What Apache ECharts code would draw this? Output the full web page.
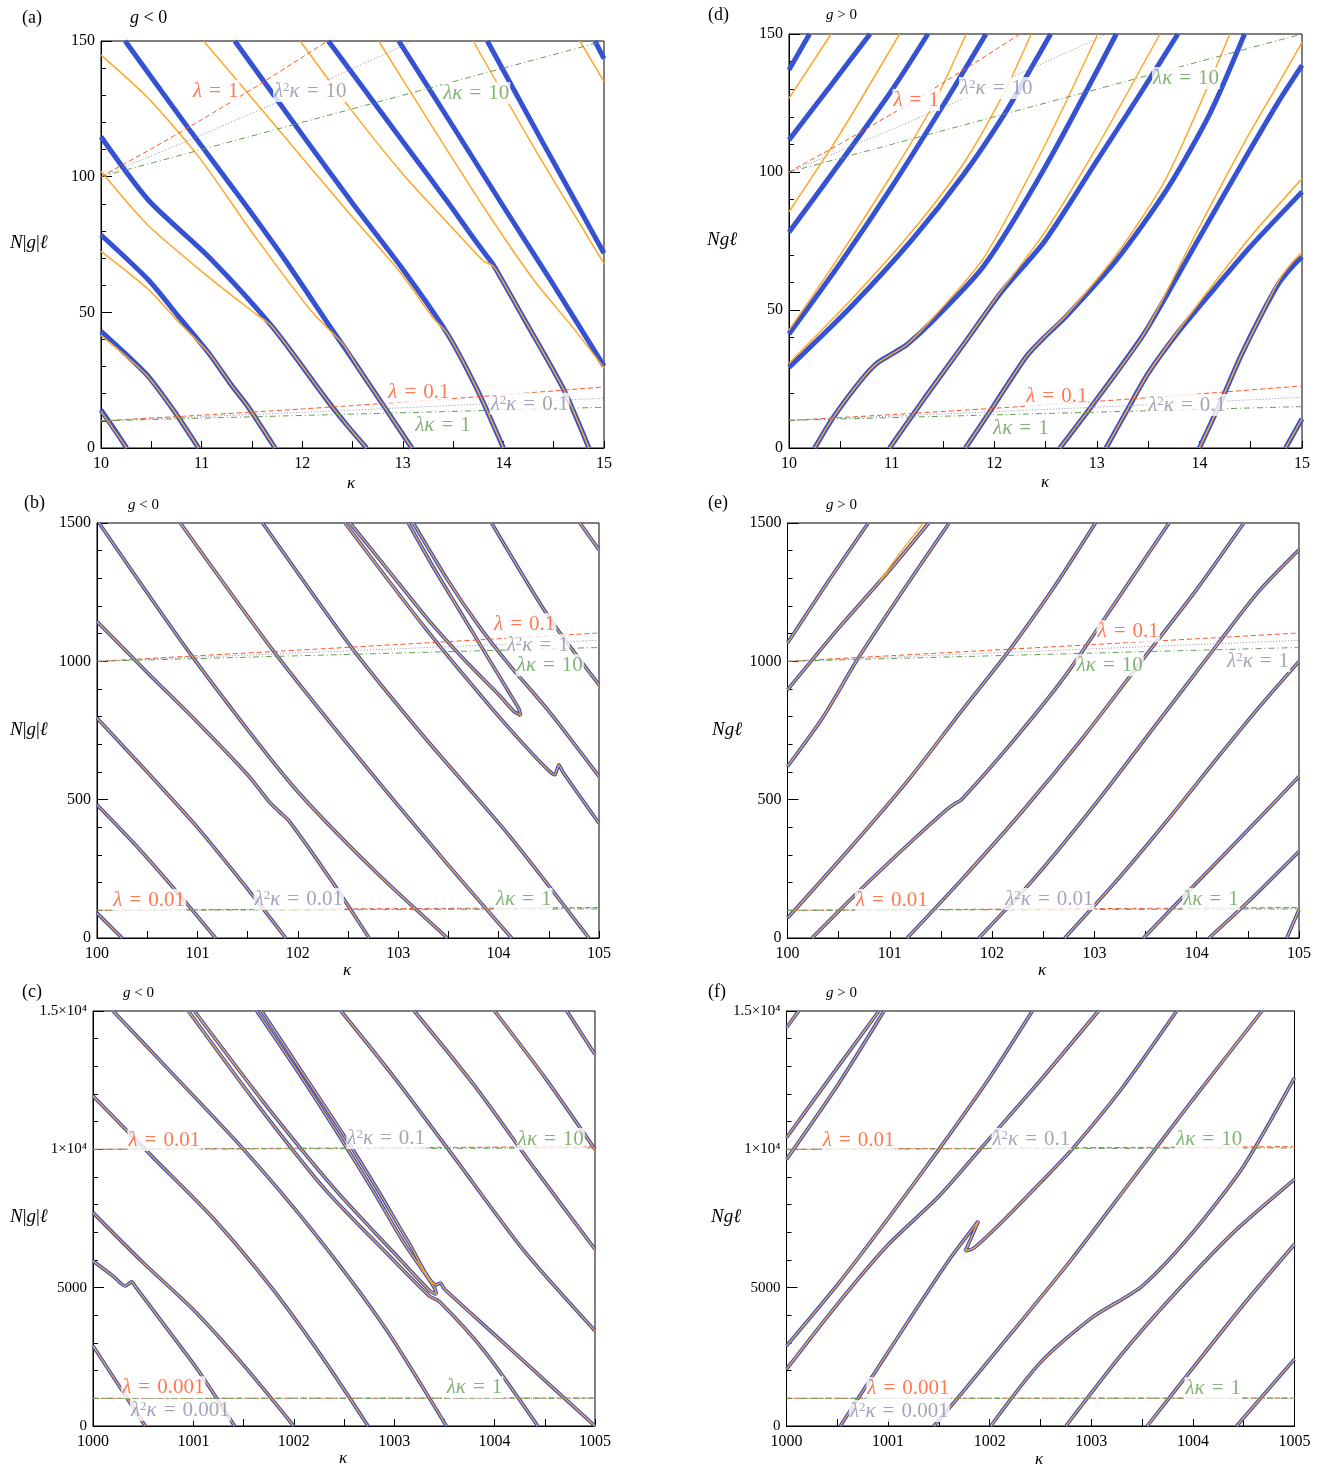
<!DOCTYPE html>
<html><head><meta charset="utf-8">
<script src="https://cdn.jsdelivr.net/npm/echarts/dist/echarts.min.js"></script>
<style>html,body{margin:0;padding:0;background:#fff}#c{width:1324px;height:1468px}</style>
</head><body><div id="c"></div>
<script>
// ---------------- DATA ----------------
// Panel (a): g<0, kappa 10..15
const aBlue = [
 [[10,14],[10.13,7],[10.255,0]],
 [[10,43],[10.25,34.5],[10.47,26.4],[10.74,12.9],[10.97,0]],
 [[10,78.5],[10.47,62],[10.77,48.5],[11.07,35],[11.3,23],[11.46,15.3],[11.73,0]],
 [[10,114.7],[10.47,91.4],[11.07,70.5],[11.7,44.8],[12.26,17],[12.45,8.2],[12.64,0]],
 [[10.24,150],[10.87,117.8],[11.4,91.4],[11.83,69.3],[12.29,44],[12.54,30.5],[13.09,0]],
 [[11.33,150],[12.0,115.5],[12.5,90.2],[12.98,66.9],[13.44,42.3],[13.74,21.5],[14.0,0]],
 [[12.26,150],[12.5,138],[13.0,113],[13.47,89.5],[13.7,77.5],[13.82,71.5],[13.9,67.5],[13.97,63],[14.23,46],[14.6,21.5],[14.85,0]],
 [[12.96,150],[13.5,118.5],[14.0,89],[14.5,60],[15,30.2]],
 [[13.84,150],[14.4,112],[15,71.8]],
 [[14.91,150],[15,143.5]]
];
const aOrange = [
 [[10,13.5],[10.13,6.7],[10.255,0]],
 [[10,41.5],[10.25,33.8],[10.47,26.2],[10.74,12.9],[10.97,0]],
 [[10,72.5],[10.47,58.5],[10.77,46.5],[11.07,35],[11.3,23],[11.46,15.3],[11.73,0]],
 [[10,102],[10.47,82],[11.07,63],[11.5,50.5],[11.7,44.8],[12.26,17],[12.45,8.2],[12.64,0]],
 [[10,144.8],[10.47,128.9],[10.97,107.4],[11.53,78],[12.09,50.5],[12.4,38.5],[12.54,30.5],[13.09,0]],
 [[11.02,150],[11.5,129],[12.0,107],[12.48,86],[12.98,64.5],[13.3,48],[13.44,42.3],[13.74,21.5],[14.0,0]],
 [[11.98,150],[12.48,125],[13.0,101],[13.47,82],[13.8,69],[13.9,67],[13.97,63],[14.23,46],[14.6,21.5],[14.85,0]],
 [[12.76,150],[13.3,118],[13.8,89],[14.3,62],[14.7,44],[15,29.5]],
 [[13.70,150],[14.3,111],[15,68]],
 [[14.76,150],[15,135]]
];
// Panel (d): g>0, kappa 10..15
const dBlue = [
 [[10,137],[10.2,150]],
 [[10,111.6],[10.4,131],[10.79,150]],
 [[10,78.2],[10.5,103.5],[11,129.5],[11.354,150]],
 [[10,41.3],[10.5,67],[11,94.5],[11.5,124],[11.92,150]],
 [[10,29.2],[10.6,51],[11.2,75.5],[11.7,99],[12.1,121],[12.35,137],[12.55,150]],
 [[10.25,0],[10.43,11],[10.69,24],[10.85,30.5],[11.0,34],[11.15,37.5],[11.4,46],[11.9,66],[12.5,102],[13.19,150]],
 [[10.98,0],[11.32,18],[11.71,38],[12.07,56.5],[12.494,75],[13.0,104],[13.4,127],[13.79,150]],
 [[11.72,0],[11.99,15],[12.31,33],[12.5,40.5],[12.7,47.6],[13.19,68],[13.68,93.5],[14.1,121],[14.44,150]],
 [[12.64,0],[12.98,16.7],[13.47,42],[13.956,73.4],[14.443,104.8],[14.77,125.4],[15,138.6]],
 [[13.09,0],[13.3,14],[13.5,27],[13.794,42],[14.118,56.5],[14.508,73.4],[15,92.8]],
 [[14.0,0],[14.2,16],[14.4,33],[14.6,48],[14.78,60],[14.9,65.5],[15,69.2]],
 [[14.84,0],[15,10.6]]
];
const dOrange = [
 [[10,126.7],[10.41,150]],
 [[10,85.6],[10.5,114],[11.078,150]],
 [[10,42.7],[10.5,70],[11,99],[11.4,124],[11.727,150]],
 [[10,30.7],[10.6,53.5],[11.2,78.5],[11.7,103],[12.1,129],[12.36,150]],
 [[10.25,0],[10.43,11],[10.69,24],[10.85,30.5],[11.0,34],[11.15,37.5],[11.4,47],[11.9,69],[12.494,109.7],[13.01,150]],
 [[10.98,0],[11.32,18],[11.71,38],[12.07,57],[12.494,78.2],[13.0,109],[13.615,150]],
 [[11.72,0],[11.99,15],[12.31,33],[12.5,40.7],[12.7,48],[13.19,70],[13.68,98],[14.297,150]],
 [[12.64,0],[12.98,16.7],[13.47,42],[13.956,77],[14.443,111],[14.77,132],[15,147]],
 [[13.09,0],[13.3,14],[13.5,27],[13.794,42.5],[14.118,58.5],[14.508,77],[15,97.6]],
 [[14.0,0],[14.2,16],[14.4,33],[14.6,48],[14.78,61],[14.9,67],[15,71]],
 [[14.84,0],[15,10.6]]
];
// Panel (b): g<0, kappa 100..105 (blue and orange coincide)
const bLines = [
 [[100,90],[100.25,0]],
 [[100,482],[100.4,330],[100.8,165],[101.18,0]],
 [[100,795],[100.5,600],[101,400],[101.45,200],[101.88,0]],
 [[100,1144],[100.5,960],[101.0,780],[101.5,590],[101.72,490],[101.82,455],[101.92,420],[102.34,205],[102.71,0]],
 [[100.02,1500],[100.95,1017],[101.94,554],[102.77,241],[103.49,0]],
 [[100.83,1500],[101.76,1036],[102.61,650],[103.44,289],[104.13,0]],
 [[101.65,1500],[102.54,1048],[103.27,722],[104.1,373],[104.9,0]],
 [[102.47,1500],[103.27,1120],[103.93,831],[104.3,680],[104.5,605],[104.56,590],[104.6,626],[104.64,600],[105,415]],
 [[102.52,1500],[102.9,1330],[103.3,1150],[103.7,990],[104.0,880],[104.15,820],[104.22,805],[104.2,830],[104.1,890],[103.9,1010],[103.6,1190],[103.35,1340],[103.1,1500]],
 [[103.15,1500],[103.5,1290],[103.8,1130],[104.1,990],[104.5,820],[105,584]],
 [[103.93,1500],[104.5,1160],[105,915]],
 [[104.81,1500],[105,1403]]
];
// Panel (e): g>0, kappa 100..105
const eLines = [
 [[100,1066],[100.4,1290],[100.79,1500]],
 [[100,897],[100.5,1120],[101,1330],[101.38,1500]],
 [[100,620],[100.35,800],[100.69,1011],[101.1,1240],[101.58,1500]],
 [[100,72],[100.6,320],[101.2,580],[101.7,820],[102.16,1036],[102.6,1265],[103.01,1500]],
 [[100.24,0],[100.7,170],[101.2,345],[101.55,462],[101.62,482],[101.7,500],[102.2,710],[102.7,940],[103.2,1210],[103.73,1500]],
 [[101.17,0],[101.7,210],[102.3,460],[102.9,730],[103.5,1020],[104.0,1260],[104.46,1500]],
 [[101.87,0],[102.4,210],[103,480],[103.6,770],[104.2,1060],[104.6,1250],[105,1403]],
 [[102.71,0],[103.2,200],[103.7,420],[104.2,650],[104.6,830],[105,1000]],
 [[103.48,0],[104,200],[104.5,390],[105,584]],
 [[104.12,0],[104.5,130],[105,313]],
 [[104.88,0],[105,102]]
];
// orange branch that separates slightly from its blue partner near the top of (e)
const eOrangeSplit = [
 [[100.9,1290],[101.1,1392],[101.33,1500]]
];
// Panel (c): g<0, kappa 1000..1005
const cLines = [
 [[1000,2896],[1000.52,0]],
 [[1000,5966],[1000.2,5420],[1000.32,5060],[1000.385,5210],[1000.43,5000],[1000.7,3700],[1001.05,2000],[1001.41,0]],
 [[1000,7712],[1000.5,5900],[1001,4200],[1001.5,2200],[1002,0]],
 [[1000,11926],[1000.6,9700],[1001.2,7500],[1001.8,4900],[1002.3,2400],[1002.74,0]],
 [[1000.2,15000],[1000.8,12700],[1001.5,10000],[1002.2,7000],[1002.9,3600],[1003.52,0]],
 [[1000.95,15000],[1001.6,11800],[1002.3,8600],[1002.95,6150],[1003.35,4700],[1003.45,4500],[1003.9,2700],[1004.43,0]],
 [[1001.01,15000],[1001.7,11700],[1002.4,8600],[1003.0,6250],[1003.35,4900],[1003.42,4760],[1003.4,5000],[1003.1,6600],[1002.8,8450],[1002.45,10500],[1002.05,12750],[1001.63,15000]],
 [[1001.68,15000],[1002.1,12700],[1002.5,10500],[1002.85,8450],[1003.15,6600],[1003.42,5100],[1003.46,5170],[1003.5,4950],[1004.0,3300],[1004.5,1650],[1005,0]],
 [[1002.47,15000],[1003,12600],[1003.6,9700],[1004.3,6300],[1005,3438]],
 [[1003.2,15000],[1003.8,12300],[1004.4,9300],[1005,6388]],
 [[1004.0,15000],[1004.5,12600],[1005,10000]],
 [[1004.72,15000],[1005,13431]]
];
// Panel (f): g>0, kappa 1000..1005
const fLines = [
 [[1000,14394],[1000.12,15000]],
 [[1000,10421],[1000.45,12700],[1000.91,15000]],
 [[1000,9638],[1000.5,12300],[1000.96,15000]],
 [[1000,2896],[1000.5,5100],[1001.0,7500],[1001.5,10000],[1002.0,12600],[1002.42,15000]],
 [[1000,2053],[1000.5,4400],[1001.0,6550],[1001.5,8300],[1001.92,10060],[1002.5,12500],[1003.07,15000]],
 [[1000.53,0],[1000.71,1030],[1001.2,3800],[1001.6,6000],[1001.89,7411],[1001.83,6900],[1001.76,6328],[1001.84,6420],[1002.1,7300],[1002.5,8800],[1002.81,10000],[1003.3,12200],[1003.84,15000]],
 [[1001.45,0],[1001.66,900],[1002.2,3300],[1002.8,6000],[1003.4,8900],[1004.0,11800],[1004.68,15000]],
 [[1002.01,0],[1002.5,2300],[1003.0,3900],[1003.5,5060],[1004.0,7000],[1004.5,9400],[1005,12588]],
 [[1002.75,0],[1003.3,2600],[1003.8,4700],[1004.4,7000],[1005,8916]],
 [[1003.55,0],[1004,2100],[1004.5,4400],[1005,6568]],
 [[1004.43,0],[1005,2415]]
];
// Reference curves (lambda = const, lambda^2 kappa = const, lambda kappa = const)
const rA_lam1   = [[10,100],[10.5,110.25],[11,121],[11.5,132.25],[12,144],[12.25,150]];
const rA_l2k10  = [[10,100],[11,115.4],[12,131.5],[13,148.2],[13.1,150]];
const rA_lk10   = [[10,100],[15,150]];
const rA_lam01  = [[10,10],[11,12.1],[12,14.4],[13,16.9],[14,19.6],[15,22.5]];
const rA_l2k01  = [[10,10],[11,11.54],[12,13.15],[13,14.82],[14,16.57],[15,18.37]];
const rA_lk1    = [[10,10],[15,15]];
const rB_lam01  = [[100,1000],[101,1020.1],[102,1040.4],[103,1060.9],[104,1081.6],[105,1102.5]];
const rB_l2k1   = [[100,1000],[101,1015],[102,1030.2],[103,1045.4],[104,1060.6],[105,1075.9]];
const rB_lk10   = [[100,1000],[105,1050]];
const rB_lam001 = [[100,100],[105,110.25]];
const rB_l2k001 = [[100,100],[105,107.6]];
const rB_lk1    = [[100,100],[105,105]];
const rC_lam001 = [[1000,10000],[1005,10100]];
const rC_l2k01  = [[1000,10000],[1005,10075]];
const rC_lk10   = [[1000,10000],[1005,10050]];
const rC_lam0001= [[1000,1000],[1005,1010]];
const rC_l2k0001= [[1000,1000],[1005,1007.5]];
const rC_lk1    = [[1000,1000],[1005,1005]];
// Tick labels
const yTicksC = {0:'0',5000:'5000',10000:'1×10⁴',15000:'1.5×10⁴'};

// ---------------- CHART ----------------
const BLUE='#3552d2', ORANGE='#ffa726', RED='#ff5626', GREY='#8f8fa8', GREEN='#64a055';
const SERIF='"Liberation Serif", "DejaVu Serif", serif';
const grids=[
 {left:101,top:41,width:503,height:407},
 {left:789,top:34,width:513,height:414},
 {left:97,top:523,width:502,height:415},
 {left:787.5,top:523,width:511.5,height:415},
 {left:93,top:1011,width:502,height:415},
 {left:786.5,top:1011,width:508,height:415}
].map(g=>Object.assign({show:true,borderColor:'#000',borderWidth:1,containLabel:false},g));
const ranges=[[10,15,0,150,50],[10,15,0,150,50],[100,105,0,1500,500],[100,105,0,1500,500],[1000,1005,0,15000,5000],[1000,1005,0,15000,5000]];
const xAxis=ranges.map((r,i)=>({type:'value',gridIndex:i,min:r[0],max:r[1],interval:0.5,
 axisLine:{lineStyle:{color:'#000',width:1}},splitLine:{show:false},
 axisTick:{inside:true,length:7,lineStyle:{color:'#000'}},
 axisLabel:{margin:8,color:'#000',fontFamily:SERIF,fontSize:16,formatter:v=>Math.abs(v-Math.round(v))<1e-6?String(Math.round(v)):''}}));
const yAxis=ranges.map((r,i)=>({type:'value',gridIndex:i,min:r[2],max:r[3],interval:r[4],
 axisLine:{lineStyle:{color:'#000',width:1}},splitLine:{show:false},
 axisTick:{inside:true,length:11,lineStyle:{color:'#000'}},
 minorTick:{show:true,splitNumber:5,length:5,lineStyle:{color:'#000'}},
 axisLabel:{margin:6,color:'#000',fontFamily:SERIF,fontSize:i>=4?15:16,formatter:v=>i>=4?(yTicksC[v]||''):String(v)}}));

const series=[];
function line(gi,data,color,width,z,type){
 series.push({type:'line',xAxisIndex:gi,yAxisIndex:gi,data:data,symbol:'none',showSymbol:false,smooth:0.25,
  lineStyle:{color:color,width:width,type:type||'solid'},z:z,silent:true,animation:false,clip:true});
}
function refs(gi,list){
 list.forEach(([d,k])=>{
  const c=k==='lam'?RED:(k==='l2k'?GREY:GREEN);
  const t=k==='lam'?[5,3]:(k==='l2k'?[1,2]:[6,3,1,3]);
  line(gi,d,c,1,5,t);
 });
}
// curves
aBlue.forEach(d=>line(0,d,BLUE,5,2)); aOrange.forEach(d=>line(0,d,ORANGE,1.5,3));
dBlue.forEach(d=>line(1,d,BLUE,5,2)); dOrange.forEach(d=>line(1,d,ORANGE,1.5,3));
[[2,bLines],[3,eLines],[4,cLines],[5,fLines]].forEach(([gi,L])=>{
 L.forEach(d=>line(gi,d,BLUE,3.6,2)); L.forEach(d=>line(gi,d,ORANGE,1.3,3));
});
eOrangeSplit.forEach(d=>line(3,d,ORANGE,1.3,3));
refs(0,[[rA_lam1,'lam'],[rA_l2k10,'l2k'],[rA_lk10,'lk'],[rA_lam01,'lam'],[rA_l2k01,'l2k'],[rA_lk1,'lk']]);
refs(1,[[rA_lam1,'lam'],[rA_l2k10,'l2k'],[rA_lk10,'lk'],[rA_lam01,'lam'],[rA_l2k01,'l2k'],[rA_lk1,'lk']]);
refs(2,[[rB_lam01,'lam'],[rB_l2k1,'l2k'],[rB_lk10,'lk'],[rB_lam001,'lam'],[rB_l2k001,'l2k'],[rB_lk1,'lk']]);
refs(3,[[rB_lam01,'lam'],[rB_l2k1,'l2k'],[rB_lk10,'lk'],[rB_lam001,'lam'],[rB_l2k001,'l2k'],[rB_lk1,'lk']]);
refs(4,[[rC_lam001,'lam'],[rC_l2k01,'l2k'],[rC_lk10,'lk'],[rC_lam0001,'lam'],[rC_l2k0001,'l2k'],[rC_lk1,'lk']]);
refs(5,[[rC_lam001,'lam'],[rC_l2k01,'l2k'],[rC_lk10,'lk'],[rC_lam0001,'lam'],[rC_l2k0001,'l2k'],[rC_lk1,'lk']]);

// in-plot labels: [kappa, value, kind, number]
const SP='\u2004';
function labels(gi,items){
 series.push({type:'scatter',xAxisIndex:gi,yAxisIndex:gi,symbolSize:1,itemStyle:{color:'rgba(0,0,0,0)'},z:20,silent:true,animation:false,
  data:items.map(([x,y,k,n])=>{
   const c=k==='lam'?RED:(k==='l2k'?GREY:GREEN);
   const f=k==='lam'?'{i|λ}{n|'+SP+'='+SP+n+'}':(k==='l2k'?'{i|λ}{s|2}{i|κ}{n|'+SP+'='+SP+n+'}':'{i|λκ}{n|'+SP+'='+SP+n+'}');
   return {value:[x,y],label:{show:true,position:'inside',formatter:f,backgroundColor:'#fff',padding:[1,1,0,1],
    rich:{i:{fontStyle:'italic',color:c,fontSize:21,fontFamily:SERIF},n:{color:c,fontSize:21,fontFamily:SERIF},
          s:{color:c,fontSize:13,fontFamily:SERIF,verticalAlign:'top',padding:[0,0,8,0]}}}};
  })});
}
labels(0,[[11.14,131.6,'lam','1'],[12.08,131.6,'l2k','10'],[13.73,130.8,'lk','10'],[13.16,20.7,'lam','0.1'],[14.26,16.3,'l2k','0.1'],[13.40,8.6,'lk','1']]);
labels(1,[[11.24,126.1,'lam','1'],[12.02,130.4,'l2k','10'],[13.87,134.1,'lk','10'],[12.61,18.8,'lam','0.1'],[13.88,15.6,'l2k','0.1'],[12.26,7.2,'lk','1']]);
labels(2,[[104.26,1134,'lam','0.1'],[104.39,1058,'l2k','1'],[104.51,986,'lk','10'],[100.52,137,'lam','0.01'],[102.01,141,'l2k','0.01'],[104.25,141,'lk','1']]);
labels(3,[[103.33,1109,'lam','0.1'],[103.15,986,'lk','10'],[104.60,1001,'l2k','1'],[101.02,137,'lam','0.01'],[102.56,141,'l2k','0.01'],[104.14,141,'lk','1']]);
labels(4,[[1000.71,10336,'lam','0.01'],[1002.92,10408,'l2k','0.1'],[1004.56,10372,'lk','10'],[1000.70,1398,'lam','0.001'],[1003.80,1398,'lk','1'],[1000.87,580,'l2k','0.001']]);
labels(5,[[1000.71,10336,'lam','0.01'],[1002.41,10372,'l2k','0.1'],[1004.16,10372,'lk','10'],[1001.20,1362,'lam','0.001'],[1004.20,1362,'lk','1'],[1001.11,542,'l2k','0.001']]);

// panel texts
const graphic=[];
function txt(x,y,t,size){
 graphic.push({type:'text',x:x,y:y,silent:true,style:{text:t,fill:'#000',font:size+'px '+SERIF,textAlign:'left',textVerticalAlign:'middle',align:'left',verticalAlign:'middle',
  rich:{i:{fontStyle:'italic',fontSize:size,fontFamily:SERIF,fill:'#000'},n:{fontSize:size,fontFamily:SERIF,fill:'#000'}}}});
}
txt(22,18,'(a)',18); txt(130,18,'{i|g}{n| < 0}',18);
txt(708,15,'(d)',18); txt(826,15,'{i|g}{n| > 0}',15);
txt(24,503,'(b)',18); txt(128,505,'{i|g}{n| < 0}',15);
txt(708,503,'(e)',18); txt(826,505,'{i|g}{n| > 0}',15);
txt(22,992,'(c)',18); txt(123,993,'{i|g}{n| < 0}',15);
txt(708,992,'(f)',18); txt(826,993,'{i|g}{n| > 0}',15);
txt(10,243,'{i|N}{n||}{i|g}{n||}{i|ℓ}',19); txt(707,240,'{i|Ngℓ}',19);
txt(10,730,'{i|N}{n||}{i|g}{n||}{i|ℓ}',19); txt(712,730,'{i|Ngℓ}',19);
txt(10,1217,'{i|N}{n||}{i|g}{n||}{i|ℓ}',19); txt(711,1217,'{i|Ngℓ}',19);
txt(347,484,'{i|κ}',17); txt(1041,483,'{i|κ}',17);
txt(343,971,'{i|κ}',17); txt(1038,971,'{i|κ}',17);
txt(339,1459,'{i|κ}',17); txt(1035,1460,'{i|κ}',17);

const chart=echarts.init(document.getElementById('c'),null,{renderer:'canvas'});
chart.setOption({animation:false,backgroundColor:'#fff',grid:grids,xAxis:xAxis,yAxis:yAxis,series:series,graphic:graphic});
</script></body></html>
